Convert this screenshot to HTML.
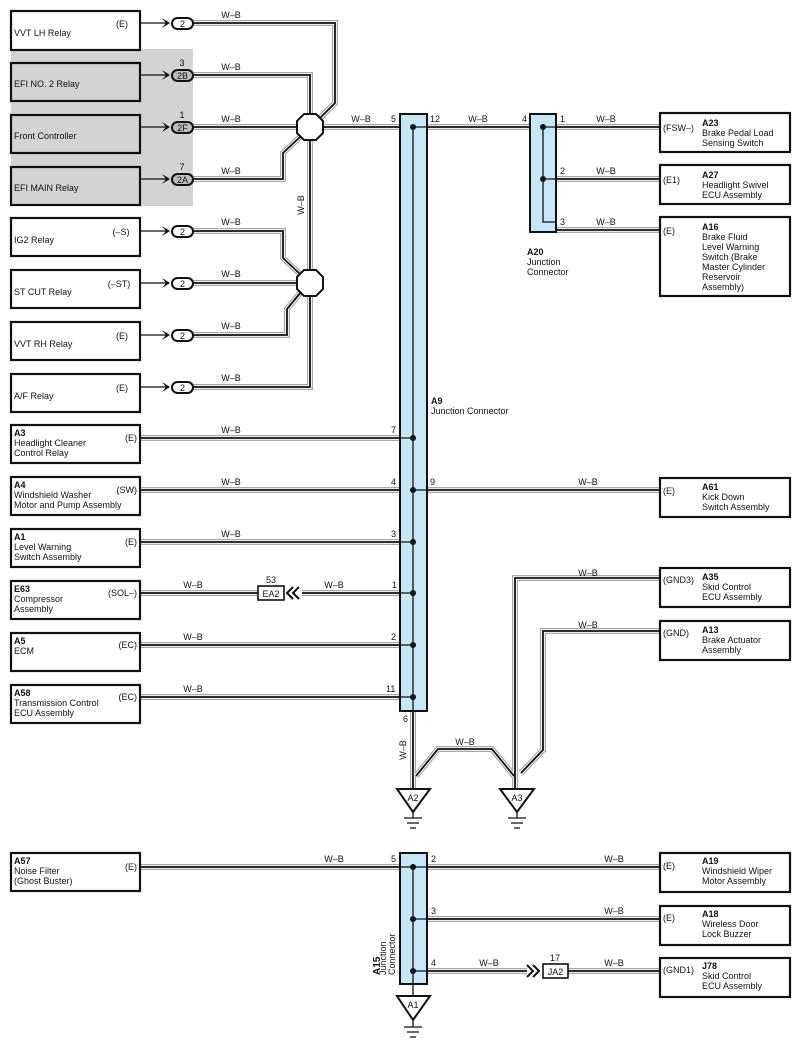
<!DOCTYPE html>
<html><head><meta charset="utf-8"><style>
html,body{margin:0;padding:0;background:#fff}
svg{display:block}
text{font-family:"Liberation Sans",Arial,sans-serif;font-size:9px;fill:#111}
.b{font-weight:bold}
.box{fill:#fff;stroke:#111;stroke-width:2.2}
.gbox{fill:#d2d3d5;stroke:#111;stroke-width:2.2}
.g1{fill:none;stroke:#a8a8a8;stroke-width:6}
.g2{fill:none;stroke:#fff;stroke-width:3.6}
.g3{fill:none;stroke:#111;stroke-width:1.8}
.bar{fill:#c6e7f6;stroke:#111;stroke-width:2}
.oval{fill:#fff;stroke:#111;stroke-width:2}
.oval2{fill:#bdbdbd;stroke:#111;stroke-width:2}
</style></head><body>
<svg width="800" height="1050" viewBox="0 0 800 1050" xmlns="http://www.w3.org/2000/svg">
<defs>
<g id="wires">
<path d="M193 23H335V103L319 119"/>
<path d="M193 75H310V114"/>
<path d="M193 127H297"/>
<path d="M193 179H283V153L301 136"/>
<path d="M323 127H660"/>
<path d="M310 140V270"/>
<path d="M193 231H283V258L300 274"/>
<path d="M193 283H297"/>
<path d="M193 335H287V309L301 292"/>
<path d="M193 387H310V296"/>
<path d="M556 179H660"/>
<path d="M556 230H660"/>
<path d="M140 438H400"/>
<path d="M140 490H660"/>
<path d="M140 542H400"/>
<path d="M140 593H258"/>
<path d="M302 593H400"/>
<path d="M140 645H400"/>
<path d="M140 697H400"/>
<path d="M660 578H515V788"/>
<path d="M660 631H543V750L521 773"/>
<path d="M413 712V788"/>
<path d="M416 776L438 749H492L514 776"/>
<path d="M140 867H660"/>
<path d="M427 919H660"/>
<path d="M427 971H527"/>
<path d="M568 971H660"/>
</g>
</defs>
<rect x="11" y="49" width="182" height="157" fill="#d2d3d5"/>
<rect class="box" x="11" y="11" width="129" height="39"/>
<rect class="gbox" x="11" y="63" width="129" height="38"/>
<rect class="gbox" x="11" y="115" width="129" height="38"/>
<rect class="gbox" x="11" y="167" width="129" height="38"/>
<rect class="box" x="11" y="218" width="129" height="38"/>
<rect class="box" x="11" y="270" width="129" height="38"/>
<rect class="box" x="11" y="322" width="129" height="38"/>
<rect class="box" x="11" y="374" width="129" height="38"/>
<text x="14" y="36">VVT LH Relay</text><text x="116" y="27">(E)</text>
<text x="14" y="87">EFI NO. 2 Relay</text>
<text x="14" y="139">Front Controller</text>
<text x="14" y="191">EFI MAIN Relay</text>
<text x="14" y="243">IG2 Relay</text><text x="121" y="235" text-anchor="middle">(–S)</text>
<text x="14" y="295">ST CUT Relay</text><text x="119" y="287" text-anchor="middle">(–ST)</text>
<text x="14" y="347">VVT RH Relay</text><text x="116" y="339">(E)</text>
<text x="14" y="399">A/F Relay</text><text x="116" y="391">(E)</text>
<use href="#wires" class="g1"/><use href="#wires" class="g2"/><use href="#wires" class="g3"/>
<g stroke="#111" stroke-width="1.3">
<path d="M140 23H168M140 75H168M140 127H168M140 179H168M140 231H168M140 283H168M140 335H168M140 387H168"/>
</g>
<g fill="#111">
<path d="M162 18L170 23L162 28L166 23Z"/><path d="M162 70L170 75L162 80L166 75Z"/><path d="M162 122L170 127L162 132L166 127Z"/><path d="M162 174L170 179L162 184L166 179Z"/>
<path d="M162 226L170 231L162 236L166 231Z"/><path d="M162 278L170 283L162 288L166 283Z"/><path d="M162 330L170 335L162 340L166 335Z"/><path d="M162 382L170 387L162 392L166 387Z"/>
</g>
<rect class="oval" x="172" y="18" width="21" height="11" rx="5.5"/><text x="182.5" y="27" text-anchor="middle">2</text>
<rect class="oval2" x="172" y="70" width="21" height="11" rx="5.5"/><text x="182.5" y="79" text-anchor="middle">2B</text><text x="182" y="66" text-anchor="middle">3</text>
<rect class="oval2" x="172" y="122" width="21" height="11" rx="5.5"/><text x="182.5" y="131" text-anchor="middle">2F</text><text x="182" y="118" text-anchor="middle">1</text>
<rect class="oval2" x="172" y="174" width="21" height="11" rx="5.5"/><text x="182.5" y="183" text-anchor="middle">2A</text><text x="182" y="170" text-anchor="middle">7</text>
<rect class="oval" x="172" y="226" width="21" height="11" rx="5.5"/><text x="182.5" y="235" text-anchor="middle">2</text>
<rect class="oval" x="172" y="278" width="21" height="11" rx="5.5"/><text x="182.5" y="287" text-anchor="middle">2</text>
<rect class="oval" x="172" y="330" width="21" height="11" rx="5.5"/><text x="182.5" y="339" text-anchor="middle">2</text>
<rect class="oval" x="172" y="382" width="21" height="11" rx="5.5"/><text x="182.5" y="391" text-anchor="middle">2</text>
<polygon points="304,114 316,114 323,121 323,133 316,140 304,140 297,133 297,121" fill="#fff" stroke="#111" stroke-width="2"/>
<polygon points="304,270 316,270 323,277 323,289 316,296 304,296 297,289 297,277" fill="#fff" stroke="#111" stroke-width="2"/>
<g text-anchor="middle">
<text x="231" y="18">W–B</text><text x="231" y="70">W–B</text><text x="231" y="122">W–B</text><text x="231" y="174">W–B</text>
<text x="231" y="225">W–B</text><text x="231" y="277">W–B</text><text x="231" y="329">W–B</text><text x="231" y="381">W–B</text>
<text x="361" y="122">W–B</text><text x="478" y="122">W–B</text><text x="606" y="122">W–B</text>
<text x="606" y="174">W–B</text><text x="606" y="225">W–B</text>
<text x="231" y="433">W–B</text><text x="231" y="485">W–B</text><text x="588" y="485">W–B</text><text x="231" y="537">W–B</text>
<text x="193" y="588">W–B</text><text x="334" y="588">W–B</text><text x="193" y="640">W–B</text><text x="193" y="692">W–B</text>
<text x="588" y="576">W–B</text><text x="588" y="628">W–B</text><text x="465" y="745">W–B</text>
<text x="334" y="862">W–B</text><text x="614" y="862">W–B</text><text x="614" y="914">W–B</text>
<text x="489" y="966">W–B</text><text x="614" y="966">W–B</text>
<text transform="translate(304,205) rotate(-90)">W–B</text>
<text transform="translate(406,750) rotate(-90)">W–B</text>
</g>
<rect class="bar" x="400" y="114" width="27" height="597"/>
<path d="M413 127V712" stroke="#111" stroke-width="1.3"/>
<path d="M413 127H427M413 438H400M413 490H427M413 542H400M413 593H400M413 645H400M413 697H400" stroke="#111" stroke-width="1.3"/>
<g fill="#111"><circle cx="413" cy="127" r="3"/><circle cx="413" cy="438" r="3"/><circle cx="413" cy="490" r="3"/><circle cx="413" cy="542" r="3"/><circle cx="413" cy="593" r="3"/><circle cx="413" cy="645" r="3"/><circle cx="413" cy="697" r="3"/></g>
<text x="391" y="122">5</text><text x="430" y="122">12</text>
<text x="391" y="433">7</text><text x="391" y="485">4</text><text x="430" y="485">9</text><text x="391" y="537">3</text>
<text x="392" y="588">1</text><text x="391" y="640">2</text><text x="386" y="692">11</text><text x="403" y="722">6</text>
<text x="431" y="404" class="b">A9</text><text x="431" y="414">Junction Connector</text>
<rect class="bar" x="530" y="114" width="26" height="118"/>
<path d="M543 127V222H556M543 127H556M543 179H556" fill="none" stroke="#111" stroke-width="1.3"/>
<g fill="#111"><circle cx="543" cy="127" r="3"/><circle cx="543" cy="179" r="3"/></g>
<text x="522" y="122">4</text><text x="560" y="122">1</text><text x="560" y="174">2</text><text x="560" y="225">3</text>
<text x="527" y="255" class="b">A20</text><text x="527" y="265">Junction</text><text x="527" y="275">Connector</text>
<rect class="box" x="660" y="113" width="130" height="39"/>
<text x="663" y="131">(FSW–)</text><text x="702" y="126" class="b">A23</text><text x="702" y="136">Brake Pedal Load</text><text x="702" y="146">Sensing Switch</text>
<rect class="box" x="660" y="165" width="130" height="39"/>
<text x="663" y="183">(E1)</text><text x="702" y="178" class="b">A27</text><text x="702" y="188">Headlight Swivel</text><text x="702" y="198">ECU Assembly</text>
<rect class="box" x="660" y="217" width="130" height="79"/>
<text x="663" y="234">(E)</text><text x="702" y="230" class="b">A16</text><text x="702" y="240">Brake Fluid</text><text x="702" y="250">Level Warning</text><text x="702" y="260">Switch (Brake</text><text x="702" y="270">Master Cylinder</text><text x="702" y="280">Reservoir</text><text x="702" y="290">Assembly)</text>
<rect class="box" x="660" y="478" width="130" height="39"/>
<text x="663" y="494">(E)</text><text x="702" y="490" class="b">A61</text><text x="702" y="500">Kick Down</text><text x="702" y="510">Switch Assembly</text>
<rect class="box" x="660" y="568" width="130" height="39"/>
<text x="663" y="583">(GND3)</text><text x="702" y="580" class="b">A35</text><text x="702" y="590">Skid Control</text><text x="702" y="600">ECU Assembly</text>
<rect class="box" x="660" y="621" width="130" height="39"/>
<text x="663" y="636">(GND)</text><text x="702" y="633" class="b">A13</text><text x="702" y="643">Brake Actuator</text><text x="702" y="653">Assembly</text>
<rect class="box" x="660" y="853" width="130" height="39"/>
<text x="663" y="869">(E)</text><text x="702" y="864" class="b">A19</text><text x="702" y="874">Windshield Wiper</text><text x="702" y="884">Motor Assembly</text>
<rect class="box" x="660" y="906" width="130" height="39"/>
<text x="663" y="921">(E)</text><text x="702" y="917" class="b">A18</text><text x="702" y="927">Wireless Door</text><text x="702" y="937">Lock Buzzer</text>
<rect class="box" x="660" y="958" width="130" height="39"/>
<text x="663" y="973">(GND1)</text><text x="702" y="969" class="b">J78</text><text x="702" y="979">Skid Control</text><text x="702" y="989">ECU Assembly</text>
<rect class="box" x="11" y="425" width="129" height="38"/>
<text x="14" y="436" class="b">A3</text><text x="14" y="446">Headlight Cleaner</text><text x="14" y="456">Control Relay</text><text x="137" y="441" text-anchor="end">(E)</text>
<rect class="box" x="11" y="477" width="129" height="38"/>
<text x="14" y="488" class="b">A4</text><text x="14" y="498">Windshield Washer</text><text x="14" y="508">Motor and Pump Assembly</text><text x="137" y="493" text-anchor="end">(SW)</text>
<rect class="box" x="11" y="529" width="129" height="38"/>
<text x="14" y="540" class="b">A1</text><text x="14" y="550">Level Warning</text><text x="14" y="560">Switch Assembly</text><text x="137" y="545" text-anchor="end">(E)</text>
<rect class="box" x="11" y="581" width="129" height="38"/>
<text x="14" y="592" class="b">E63</text><text x="14" y="602">Compressor</text><text x="14" y="612">Assembly</text><text x="137" y="596" text-anchor="end">(SOL–)</text>
<rect class="box" x="11" y="633" width="129" height="38"/>
<text x="14" y="644" class="b">A5</text><text x="14" y="654">ECM</text><text x="137" y="648" text-anchor="end">(EC)</text>
<rect class="box" x="11" y="685" width="129" height="38"/>
<text x="14" y="696" class="b">A58</text><text x="14" y="706">Transmission Control</text><text x="14" y="716">ECU Assembly</text><text x="137" y="700" text-anchor="end">(EC)</text>
<rect class="box" x="11" y="853" width="129" height="38"/>
<text x="14" y="864" class="b">A57</text><text x="14" y="874">Noise Filter</text><text x="14" y="884">(Ghost Buster)</text><text x="137" y="870" text-anchor="end">(E)</text>
<rect x="258" y="586" width="26" height="14" fill="#fff" stroke="#111" stroke-width="1.6"/>
<text x="271" y="597" text-anchor="middle">EA2</text><text x="271" y="583" text-anchor="middle">53</text>
<path d="M293 587L287 593L293 599M299 587L293 593L299 599" fill="none" stroke="#111" stroke-width="2"/>
<rect x="543" y="964" width="25" height="14" fill="#fff" stroke="#111" stroke-width="1.6"/>
<text x="555.5" y="975" text-anchor="middle">JA2</text><text x="555" y="961" text-anchor="middle">17</text>
<path d="M533 965L539 971L533 977M527 965L533 971L527 977" fill="none" stroke="#111" stroke-width="2"/>
<g fill="#fff" stroke="#111" stroke-width="2">
<polygon points="397,789 430,789 413,812"/><polygon points="500,789 534,789 517,812"/><polygon points="397,996 430,996 413,1020"/>
</g>
<text x="413" y="801" text-anchor="middle">A2</text><text x="517" y="801" text-anchor="middle">A3</text><text x="413" y="1008" text-anchor="middle">A1</text>
<g stroke="#111" stroke-width="1.3">
<path d="M413 812V818M404 818H422M407 823H419M410 828H416"/>
<path d="M517 812V818M508 818H526M511 823H523M514 828H520"/>
<path d="M413 1020V1027M404 1027H422M407 1032H419M410 1037H416"/>
</g>
<rect class="bar" x="400" y="853" width="27" height="131"/>
<path d="M413 867V996M413 867H427M413 919H427M413 971H427M400 867H413" stroke="#111" stroke-width="1.3"/>
<g fill="#111"><circle cx="413" cy="867" r="3"/><circle cx="413" cy="919" r="3"/><circle cx="413" cy="971" r="3"/></g>
<text x="391" y="862">5</text><text x="431" y="862">2</text><text x="431" y="914">3</text><text x="431" y="966">4</text>
<text transform="translate(380,975) rotate(-90)" class="b" style="font-size:10px">A15</text>
<text transform="translate(386,975) rotate(-90)">Junction</text>
<text transform="translate(395,975) rotate(-90)">Connector</text>
</svg>
</body></html>
